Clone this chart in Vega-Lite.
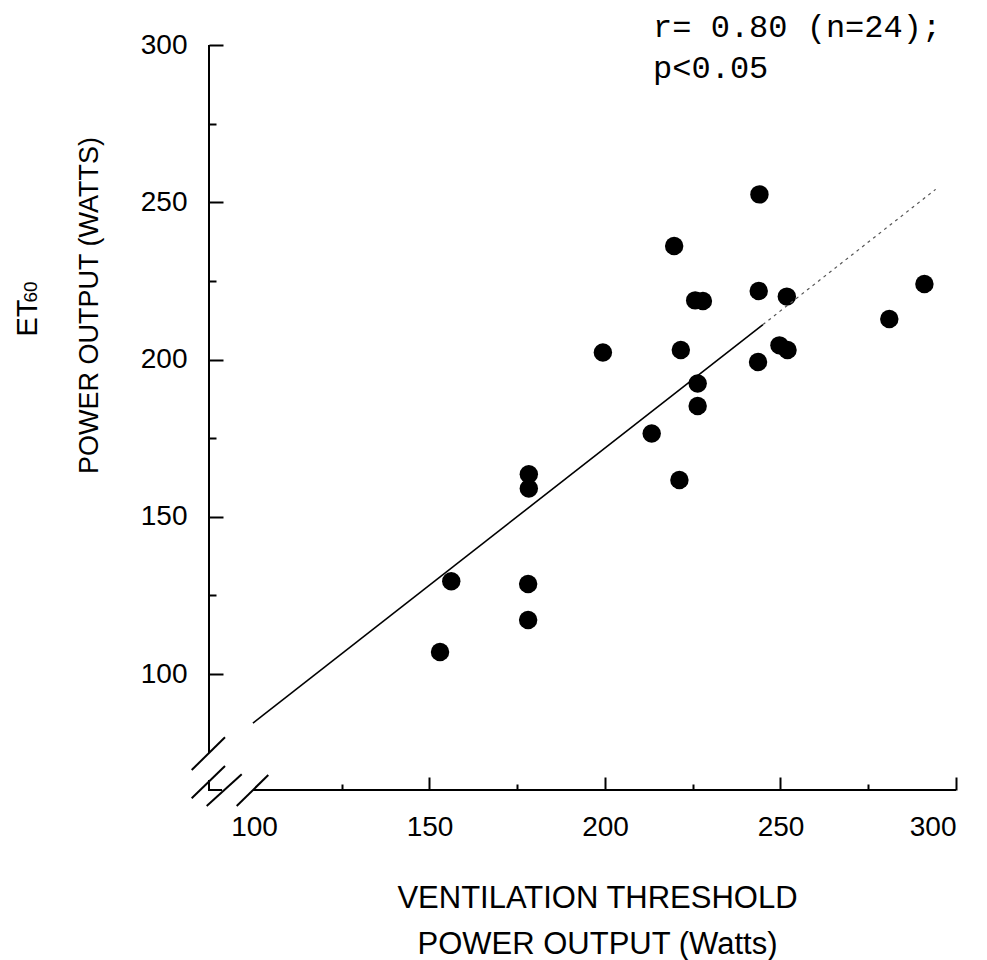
{
  "$schema": "https://vega.github.io/schema/vega-lite/v6.json",
  "width": 747,
  "height": 745,
  "autosize": "none",
  "padding": {"left": 209, "top": 45, "right": 31, "bottom": 170},
  "background": "white",
  "config": {
    "view": {"stroke": null},
    "font": "Liberation Sans",
    "axis": {"grid": false, "domain": false, "tickColor": "black", "tickWidth": 2, "labelColor": "black", "titleColor": "black", "labelFont": "Liberation Sans", "titleFont": "Liberation Sans", "titleFontWeight": "normal"}
  },
  "datasets": {
    "pts": [
      {"x": 244.0, "y": 252.5}, {"x": 219.7, "y": 236.1}, {"x": 225.7, "y": 218.8}, {"x": 227.9, "y": 218.6},
      {"x": 243.8, "y": 221.8}, {"x": 251.8, "y": 220.0}, {"x": 199.4, "y": 202.2}, {"x": 221.6, "y": 203.0},
      {"x": 249.7, "y": 204.5}, {"x": 252.0, "y": 203.0}, {"x": 243.6, "y": 199.2}, {"x": 226.4, "y": 192.4},
      {"x": 226.4, "y": 185.2}, {"x": 213.3, "y": 176.5}, {"x": 178.3, "y": 163.5}, {"x": 178.3, "y": 159.0},
      {"x": 221.2, "y": 161.7}, {"x": 156.2, "y": 129.5}, {"x": 178.1, "y": 128.6}, {"x": 178.1, "y": 117.2},
      {"x": 153.0, "y": 107.0}, {"x": 281.0, "y": 212.9}, {"x": 291.0, "y": 224.0}
    ],
    "axes": [
      {"x": 87.18, "x2": 87.18, "y": 74.88, "y2": 300},
      {"x": 99.7, "x2": 300, "y": 63.12, "y2": 63.12},
      {"x": 86.9, "x2": 90.9, "y": 63.12, "y2": 63.12},
      {"x": 87.18, "x2": 87.18, "y": 63.12, "y2": 66.3},
      {"x": 82.25, "x2": 91.74, "y": 69.48, "y2": 79.87},
      {"x": 82.25, "x2": 91.74, "y": 60.48, "y2": 70.75},
      {"x": 86.52, "x2": 96.5, "y": 58.03, "y2": 68.11},
      {"x": 95.07, "x2": 104.07, "y": 58.03, "y2": 67.89}
    ],
    "fit": [
      {"x": 99.7, "y": 84.4, "part": "a"}, {"x": 245, "y": 211.1, "part": "a"},
      {"x": 245, "y": 211.1, "part": "b"}, {"x": 294.2, "y": 254.1, "part": "b"}
    ],
    "notes": [
      {"x": 213.7, "y": 302.5, "label": "r= 0.80 (n=24);"},
      {"x": 213.7, "y": 289.5, "label": "p<0.05"}
    ],
    "ytitle": [
      {"x": 38.2, "y": 213.2, "label": "ET"},
      {"x": 38.2, "y": 221.5, "label": "60"}
    ]
  },
  "layer": [
    {
      "data": {"name": "axes"},
      "mark": {"type": "rule", "color": "black", "strokeWidth": 2},
      "encoding": {
        "x": {"field": "x", "type": "quantitative", "scale": {"domain": [87.18, 300], "nice": false, "zero": false},
              "axis": {"orient": "bottom", "values": [125, 175, 225, 275], "tickSize": -6, "labels": false, "title": null}},
        "x2": {"field": "x2"},
        "y": {"field": "y", "type": "quantitative", "scale": {"domain": [63.12, 300], "nice": false, "zero": false},
              "axis": {"orient": "left", "values": [125, 175, 225, 275], "tickSize": -7, "labels": false, "title": null}},
        "y2": {"field": "y2"}
      }
    },
    {
      "data": {"name": "pts"},
      "mark": {"type": "point", "shape": "circle", "filled": true, "color": "black", "opacity": 1, "size": 340},
      "encoding": {
        "x": {"field": "x", "type": "quantitative", "scale": {"domain": [87.18, 300], "nice": false, "zero": false},
              "axis": {"orient": "bottom", "values": [100, 150, 200, 250, 300], "tickSize": -13,
                       "tickOpacity": {"condition": {"test": "datum.value === 100", "value": 0}, "value": 1},
                       "labelPadding": 36, "labelFontSize": 28,
                       "title": ["VENTILATION THRESHOLD", "POWER OUTPUT (Watts)"],
                       "titleFontSize": 31, "titleLineHeight": 46, "titleBaseline": "alphabetic", "titleAlign": "center",
                       "titleX": 388, "titleY": 117}},
        "y": {"field": "y", "type": "quantitative", "scale": {"domain": [63.12, 300], "nice": false, "zero": false},
              "axis": {"orient": "left", "values": [100, 150, 200, 250, 300], "tickSize": -14,
                       "labelPadding": 36, "labelFontSize": 28,
                       "title": "POWER OUTPUT (WATTS)",
                       "titleFontSize": 27, "titleBaseline": "alphabetic", "titleAlign": "center",
                       "titleAngle": -90, "titleX": -112, "titleY": 260}}
      }
    },
    {
      "data": {"name": "fit"},
      "transform": [{"filter": "datum.part === 'a'"}],
      "mark": {"type": "line", "color": "black", "strokeWidth": 1.6},
      "encoding": {
        "x": {"field": "x", "type": "quantitative", "scale": {"domain": [87.18, 300], "nice": false, "zero": false}, "axis": null},
        "y": {"field": "y", "type": "quantitative", "scale": {"domain": [63.12, 300], "nice": false, "zero": false}, "axis": null}
      }
    },
    {
      "data": {"name": "fit"},
      "transform": [{"filter": "datum.part === 'b'"}],
      "mark": {"type": "line", "color": "#555555", "strokeWidth": 1.2, "strokeDash": [3, 4]},
      "encoding": {
        "x": {"field": "x", "type": "quantitative", "scale": {"domain": [87.18, 300], "nice": false, "zero": false}, "axis": null},
        "y": {"field": "y", "type": "quantitative", "scale": {"domain": [63.12, 300], "nice": false, "zero": false}, "axis": null}
      }
    },
    {
      "data": {"name": "notes"},
      "mark": {"type": "text", "font": "Liberation Mono", "fontSize": 32, "align": "left", "baseline": "alphabetic", "color": "black"},
      "encoding": {
        "x": {"field": "x", "type": "quantitative", "scale": {"domain": [87.18, 300], "nice": false, "zero": false}, "axis": null},
        "y": {"field": "y", "type": "quantitative", "scale": {"domain": [63.12, 300], "nice": false, "zero": false}, "axis": null},
        "text": {"field": "label"}
      }
    },
    {
      "data": {"name": "ytitle"},
      "transform": [{"filter": "datum.label === 'ET'"}],
      "mark": {"type": "text", "fontSize": 29, "angle": 270, "align": "center", "baseline": "alphabetic", "color": "black"},
      "encoding": {
        "x": {"field": "x", "type": "quantitative", "scale": {"domain": [87.18, 300], "nice": false, "zero": false}, "axis": null},
        "y": {"field": "y", "type": "quantitative", "scale": {"domain": [63.12, 300], "nice": false, "zero": false}, "axis": null},
        "text": {"field": "label"}
      }
    },
    {
      "data": {"name": "ytitle"},
      "transform": [{"filter": "datum.label === '60'"}],
      "mark": {"type": "text", "fontSize": 19, "angle": 270, "align": "center", "baseline": "alphabetic", "color": "black"},
      "encoding": {
        "x": {"field": "x", "type": "quantitative", "scale": {"domain": [87.18, 300], "nice": false, "zero": false}, "axis": null},
        "y": {"field": "y", "type": "quantitative", "scale": {"domain": [63.12, 300], "nice": false, "zero": false}, "axis": null},
        "text": {"field": "label"}
      }
    }
  ],
  "resolve": {"axis": {"x": "independent", "y": "independent"}}
}
